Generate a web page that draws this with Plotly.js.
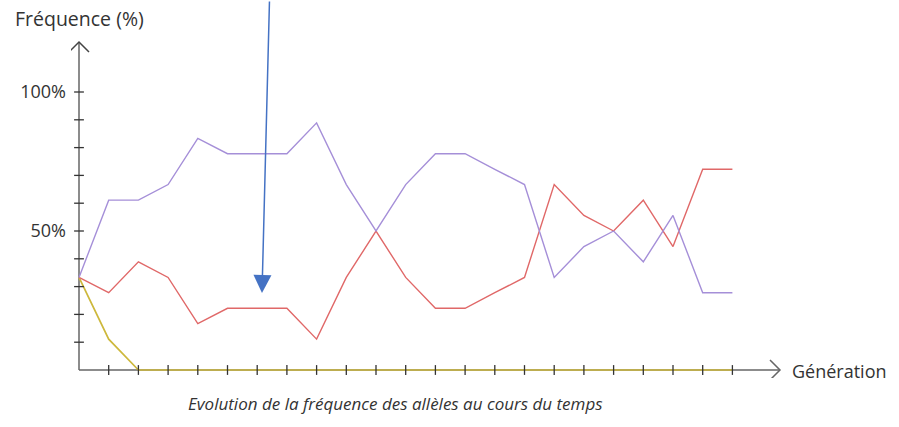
<!DOCTYPE html>
<html>
<head>
<meta charset="utf-8">
<script src="https://cdn.plot.ly/plotly-3.0.1.min.js"></script>
<style>html,body{margin:0;padding:0;background:#fff;}#chart{width:899px;height:427px;}</style>
</head>
<body>
<div id="chart"></div>
<script>
const generations = [0,1,2,3,4,5,6,7,8,9,10,11,12,13,14,15,16,17,18,19,20,21,22];
const allelePurple = [33.3,61.1,61.1,66.7,83.3,77.8,77.8,77.8,88.9,66.7,50,66.7,77.8,77.8,72.2,66.7,33.3,44.4,50,38.9,55.6,27.8,27.8];
const alleleRed = [33.3,27.8,38.9,33.3,16.7,22.2,22.2,22.2,11.1,33.3,50,33.3,22.2,22.2,27.8,33.3,66.7,55.6,50,61.1,44.4,72.2,72.2];
const alleleYellow = [33.3,11.1,0,0,0,0,0,0,0,0,0,0,0,0,0,0,0,0,0,0,0,0,0];
const xTickVals = [1,2,3,4,5,6,7,8,9,10,11,12,13,14,15,16,17,18,19,20,21,22];
const yTickVals = [10,20,30,40,50,60,70,80,90,100];
const yLabelVals = [50,100];
const yLabelText = ['50%','100%'];

const axisColor = '#666';
const font = 'Open Sans, Noto Sans, sans-serif';

// geometry
const W = 899, H = 427;
const M = {l: 71, r: 115, t: 38, b: 49};
const pw = W - M.l - M.r, ph = H - M.t - M.b;
const sx = 653.4 / 22;      // px per generation
const sy = 278 / 100;       // px per percent
const xr = [-8 / sx, -8 / sx + pw / sx];
const yr = [-8 / sy, -8 / sy + ph / sy];
const xEnd = 701 / sx;      // end of x axis line (arrow tip)
const yEnd = 328 / sy;      // end of y axis line (arrow tip)
const px2paperX = p => (p - M.l) / pw;
const px2paperY = p => (H - M.b - p) / ph;

const traces = [
  {x: generations, y: alleleYellow, mode: 'lines', line: {color: '#cdb83c', width: 1.7}, hoverinfo: 'skip'},
  {x: generations, y: alleleRed, mode: 'lines', line: {color: '#e06868', width: 1.4}, hoverinfo: 'skip'},
  {x: generations, y: allelePurple, mode: 'lines', line: {color: '#a58fd8', width: 1.4}, hoverinfo: 'skip'},
  {x: xTickVals, y: xTickVals.map(() => 0), mode: 'markers', marker: {symbol: 'line-ns', size: 7, line: {color: '#333', width: 1.3}}, hoverinfo: 'skip'},
  {x: yTickVals.map(() => 0), y: yTickVals, mode: 'markers', marker: {symbol: 'line-ew', size: 7, line: {color: '#333', width: 1.3}}, hoverinfo: 'skip'}
];

const layout = {
  width: W, height: H,
  margin: M,
  paper_bgcolor: '#fff', plot_bgcolor: '#fff',
  showlegend: false,
  font: {family: font, color: '#333'},
  xaxis: {range: xr, showgrid: false, zeroline: false, showline: false,
          showticklabels: false, ticks: '', fixedrange: true},
  yaxis: {range: yr, showgrid: false, zeroline: false, showline: false,
          tickvals: yLabelVals, ticktext: yLabelText, ticks: '', ticklabelstandoff: 4,
          tickfont: {family: font, size: 18, color: '#333'}, fixedrange: true},
  shapes: [
    {type: 'line', xref: 'x', yref: 'y', x0: 0, y0: 0, x1: xEnd, y1: 0, layer: 'below', line: {color: axisColor, width: 1.5}},
    {type: 'line', xref: 'x', yref: 'y', x0: 0, y0: 0, x1: 0, y1: yEnd, layer: 'below', line: {color: axisColor, width: 1.5}},
    {type: 'path', xref: 'x', yref: 'y',
     path: `M ${xEnd - 10/sx} ${10/sy} L ${xEnd} 0 L ${xEnd - 10/sx} ${-10/sy}`, line: {color: axisColor, width: 1.5}},
    {type: 'path', xref: 'x', yref: 'y',
     path: `M ${-10/sx} ${yEnd - 10/sy} L 0 ${yEnd} L ${10/sx} ${yEnd - 10/sy}`, line: {color: '#444', width: 1.5}}
  ],
  annotations: [
    {text: 'Fréquence (%)', xref: 'paper', yref: 'paper', x: px2paperX(13), y: px2paperY(19),
     xanchor: 'left', yanchor: 'middle', showarrow: false, font: {family: font, size: 19.5, color: '#333'}},
    {text: 'Génération', xref: 'paper', yref: 'paper', x: px2paperX(790), y: px2paperY(371),
     xanchor: 'left', yanchor: 'middle', showarrow: false, font: {family: font, size: 18, color: '#333'}},
    {text: '<i>Evolution de la fréquence des allèles au cours du temps</i>', xref: 'paper', yref: 'paper',
     x: px2paperX(395), y: px2paperY(403), xanchor: 'center', yanchor: 'middle', showarrow: false,
     font: {family: font, size: 17, color: '#333'}},
    {text: '', xref: 'paper', yref: 'paper', x: px2paperX(262), y: px2paperY(293),
     showarrow: true, arrowhead: 2, arrowsize: 2.4, arrowwidth: 1.5, arrowcolor: '#4472c4',
     ax: 7.5, ay: -300, standoff: 0}
  ]
};

Plotly.newPlot('chart', traces, layout, {displayModeBar: false, staticPlot: true});
</script>
</body>
</html>
